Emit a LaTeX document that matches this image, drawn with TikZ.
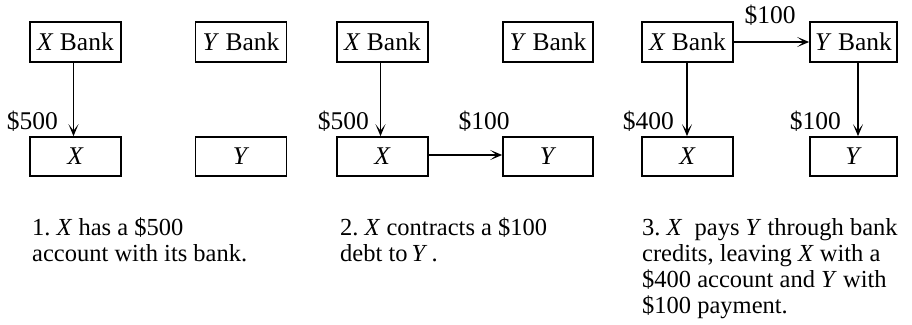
\documentclass[tikz,border=0pt]{standalone}
\usepackage{fontspec}
\setmainfont{Liberation Serif}
\usetikzlibrary{arrows.meta}
\begin{document}
\begin{tikzpicture}[x=1pt,y=-1pt,
  box/.style={draw, line width=1.7pt, inner sep=0pt, minimum width=91pt, minimum height=40pt, font=\fontsize{25.5}{30}\selectfont},
  lbl/.style={inner sep=0pt, font=\fontsize{25.5}{30}\selectfont},
  flow/.style={line width=1.6pt, -{Stealth[length=12pt,width=10pt,inset=6.5pt]}},
  captext/.style={inner sep=0pt, anchor=base west, font=\fontsize{24.5}{26}\selectfont}]
\useasboundingbox (0,0) rectangle (912,324);
% panel 1
\node[box] (xb1) at (75.5,42) {\textit{X} Bank};
\node[box] (yb1) at (241,42) {\textit{Y} Bank};
\node[box, minimum height=39pt] (x1) at (75.5,156.5) {\textit{X}};
\node[box, minimum height=39pt] (y1) at (241,156.5) {\textit{Y}};
\draw[flow] ([xshift=-2pt]xb1.south) -- ([xshift=-2pt]x1.north);
\node[lbl, anchor=base east] (l1) at (58,129.5) {\$500};
% panel 2
\node[box] (xb2) at (382.5,42) {\textit{X} Bank};
\node[box, minimum width=90pt] (yb2) at (548,42) {\textit{Y} Bank};
\node[box, minimum height=39pt] (x2) at (382.5,156.5) {\textit{X}};
\node[box, minimum width=90pt, minimum height=39pt] (y2) at (548,156.5) {\textit{Y}};
\draw[flow] ([xshift=-2pt]xb2.south) -- ([xshift=-2pt]x2.north);
\draw[flow] ([yshift=1.5pt]x2.east) -- ([yshift=1.5pt]y2.west);
\node[lbl, anchor=base east] (l2) at (369,129.5) {\$500};
\node[lbl, anchor=base] (l3) at (484,129.5) {\$100};
% panel 3
\node[box] (xb3) at (687.5,42) {\textit{X} Bank};
\node[box, minimum width=87pt] (yb3) at (853.5,42) {\textit{Y} Bank};
\node[box, minimum height=39pt] (x3) at (687.5,156.5) {\textit{X}};
\node[box, minimum width=87pt, minimum height=39pt] (y3) at (853.5,156.5) {\textit{Y}};
\draw[flow] (xb3.east) -- (yb3.west);
\draw[flow] ([xshift=-0.5pt]xb3.south) -- ([xshift=-0.5pt]x3.north);
\draw[flow] ([xshift=4.5pt]yb3.south) -- ([xshift=4.5pt]y3.north);
\node[lbl, anchor=base] (l4) at (770,23.5) {\$100};
\node[lbl, anchor=base east] (l5) at (674,129.5) {\$400};
\node[lbl, anchor=base east] (l6) at (841,129.5) {\$100};
% captions
\node[captext] (c1) at (32,235) {\parbox[t]{280pt}{\raggedright 1.\ \textit{X} has a \$500\\ account with its bank.}};
\node[captext] (c2) at (340,235) {\parbox[t]{280pt}{\raggedright 2.\ \textit{X} contracts a \$100\\ debt to\,\textit{Y}\,.}};
\node[captext] (c3) at (642,235) {\parbox[t]{280pt}{\raggedright 3.\ \textit{X}\ \ pays \textit{Y} through bank\\ credits, leaving \textit{X} with a\\ \$400 account and \textit{Y} with\\ \$100 payment.}};
\end{tikzpicture}
\end{document}
